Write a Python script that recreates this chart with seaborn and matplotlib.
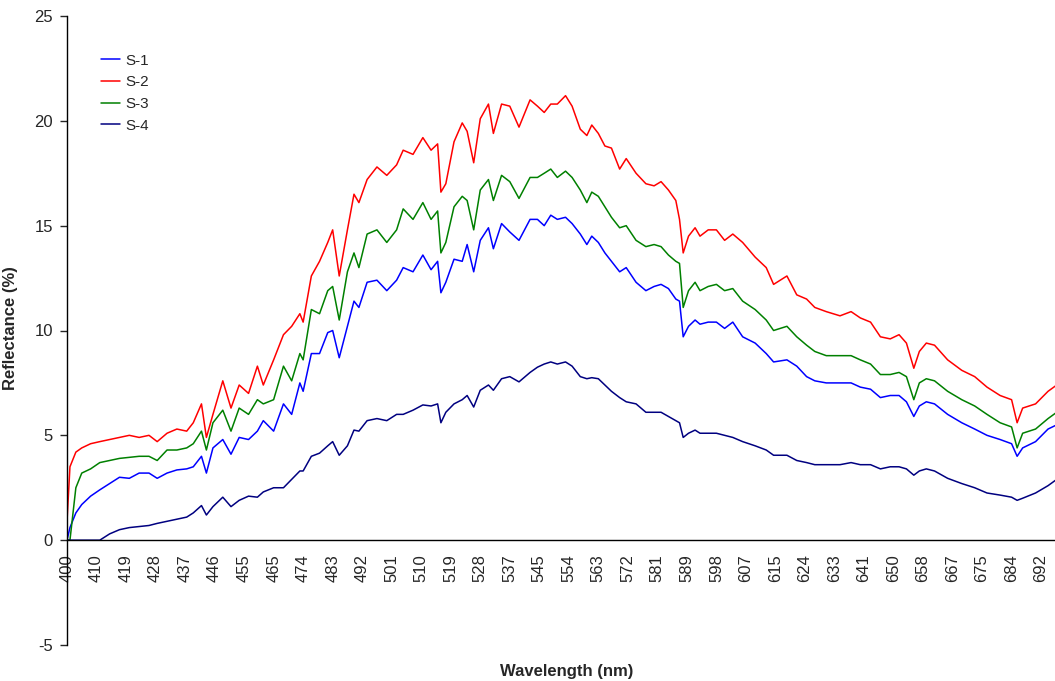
import numpy as np
import pandas as pd
import matplotlib
matplotlib.use("Agg")
import matplotlib.pyplot as plt
import seaborn as sns

# wavelengths (nm) where the curves were read
wavelength = [
    400, 401, 403, 405, 408, 411, 414, 417, 420, 423,
    426, 428.5, 431.5, 434.5, 437.5, 439.5, 442, 443.5, 445.5, 448.5,
    451, 453.5, 456.5, 459.5, 461.5, 465, 468, 470.5, 473, 474,
    476.5, 479, 481.5, 483, 485, 487.5, 489.5, 491, 493.5, 496.5,
    499.5, 502.5, 504.5, 507.5, 510.5, 513, 515, 516, 517.5, 520,
    522.5, 524, 526, 528, 530.5, 532, 534.5, 537, 539.5, 542.5,
    544.5, 546.5, 548.5, 550.5, 553, 555, 557.5, 559.5, 561, 563,
    565, 567, 569.5, 571.5, 574.5, 577.5, 580, 582, 584, 586,
    587, 588, 589.5, 591.5, 593, 595.5, 598, 600.5, 603, 606,
    609.5, 612.5, 614.5, 618.5, 621.5, 624.5, 627, 630.5, 634.5, 637.5,
    640, 643, 646, 649, 651.5, 653.5, 655.5, 657, 659, 661.5,
    665.5, 669.5, 673, 676.5, 680.5, 684, 685.5, 687, 690.5, 694,
    696.5,
]

s1 = [
    0, 0.6, 1.3, 1.7, 2.1, 2.4, 2.7, 3.0, 2.95, 3.2,
    3.2, 2.95, 3.2, 3.35, 3.4, 3.5, 4.0, 3.2, 4.4, 4.8,
    4.1, 4.9, 4.8, 5.2, 5.7, 5.2, 6.5, 6.0, 7.5, 7.1,
    8.9, 8.9, 9.9, 10.0, 8.7, 10.2, 11.4, 11.1, 12.3, 12.4,
    11.9, 12.4, 13.0, 12.8, 13.6, 12.9, 13.3, 11.8, 12.3, 13.4,
    13.3, 14.1, 12.8, 14.3, 14.9, 13.9, 15.1, 14.7, 14.3, 15.3,
    15.3, 15.0, 15.5, 15.3, 15.4, 15.1, 14.6, 14.1, 14.5, 14.2,
    13.7, 13.3, 12.8, 13.0, 12.3, 11.9, 12.1, 12.2, 12.0, 11.5,
    11.4, 9.7, 10.2, 10.5, 10.3, 10.4, 10.4, 10.1, 10.4, 9.7,
    9.4, 8.9, 8.5, 8.6, 8.3, 7.8, 7.6, 7.5, 7.5, 7.5,
    7.3, 7.2, 6.8, 6.9, 6.9, 6.6, 5.9, 6.4, 6.6, 6.5,
    6.0, 5.6, 5.3, 5.0, 4.8, 4.6, 4.0, 4.4, 4.7, 5.3,
    5.5,
]

s2 = [
    0.9, 3.5, 4.2, 4.4, 4.6, 4.7, 4.8, 4.9, 5.0, 4.9,
    5.0, 4.7, 5.1, 5.3, 5.2, 5.6, 6.5, 4.9, 6.0, 7.6,
    6.3, 7.4, 7.0, 8.3, 7.4, 8.6, 9.8, 10.2, 10.8, 10.4,
    12.6, 13.3, 14.2, 14.8, 12.6, 14.8, 16.5, 16.1, 17.2, 17.8,
    17.4, 17.9, 18.6, 18.4, 19.2, 18.6, 18.9, 16.6, 17.0, 19.0,
    19.9, 19.5, 18.0, 20.1, 20.8, 19.4, 20.8, 20.7, 19.7, 21.0,
    20.7, 20.4, 20.8, 20.8, 21.2, 20.7, 19.6, 19.3, 19.8, 19.4,
    18.8, 18.7, 17.7, 18.2, 17.5, 17.0, 16.9, 17.1, 16.7, 16.2,
    15.3, 13.7, 14.5, 14.9, 14.5, 14.8, 14.8, 14.3, 14.6, 14.2,
    13.5, 13.0, 12.2, 12.6, 11.7, 11.5, 11.1, 10.9, 10.7, 10.9,
    10.6, 10.4, 9.7, 9.6, 9.8, 9.4, 8.2, 9.0, 9.4, 9.3,
    8.6, 8.1, 7.8, 7.3, 6.9, 6.7, 5.6, 6.3, 6.5, 7.1,
    7.4,
]

s3 = [
    0, 0, 2.5, 3.2, 3.4, 3.7, 3.8, 3.9, 3.95, 4.0,
    4.0, 3.8, 4.3, 4.3, 4.4, 4.6, 5.2, 4.3, 5.6, 6.2,
    5.2, 6.3, 6.0, 6.7, 6.5, 6.7, 8.3, 7.6, 8.9, 8.6,
    11.0, 10.8, 11.9, 12.1, 10.5, 12.8, 13.7, 13.0, 14.6, 14.8,
    14.2, 14.8, 15.8, 15.3, 16.1, 15.3, 15.7, 13.7, 14.2, 15.9,
    16.4, 16.2, 14.8, 16.7, 17.2, 16.2, 17.4, 17.1, 16.3, 17.3,
    17.3, 17.5, 17.7, 17.3, 17.6, 17.3, 16.7, 16.1, 16.6, 16.4,
    15.9, 15.4, 14.9, 15.0, 14.3, 14.0, 14.1, 14.0, 13.6, 13.3,
    13.2, 11.1, 11.9, 12.3, 11.9, 12.1, 12.2, 11.9, 12.0, 11.4,
    11.0, 10.5, 10.0, 10.2, 9.7, 9.3, 9.0, 8.8, 8.8, 8.8,
    8.6, 8.4, 7.9, 7.9, 8.0, 7.8, 6.7, 7.5, 7.7, 7.6,
    7.1, 6.7, 6.4, 6.0, 5.6, 5.4, 4.4, 5.1, 5.3, 5.8,
    6.1,
]

s4 = [
    0, 0, 0, 0, 0, 0, 0.3, 0.5, 0.6, 0.65,
    0.7, 0.8, 0.9, 1.0, 1.1, 1.3, 1.65, 1.2, 1.6, 2.05,
    1.6, 1.9, 2.1, 2.05, 2.3, 2.5, 2.5, 2.9, 3.3, 3.3,
    4.0, 4.15, 4.5, 4.7, 4.05, 4.5, 5.25, 5.2, 5.7, 5.8,
    5.7, 6.0, 6.0, 6.2, 6.45, 6.4, 6.5, 5.6, 6.1, 6.5,
    6.7, 6.9, 6.35, 7.15, 7.4, 7.15, 7.7, 7.8, 7.55, 8.0,
    8.25, 8.4, 8.5, 8.4, 8.5, 8.3, 7.8, 7.7, 7.75, 7.7,
    7.4, 7.1, 6.8, 6.6, 6.5, 6.1, 6.1, 6.1, 5.9, 5.7,
    5.6, 4.9, 5.1, 5.25, 5.1, 5.1, 5.1, 5.0, 4.9, 4.7,
    4.5, 4.3, 4.05, 4.05, 3.8, 3.7, 3.6, 3.6, 3.6, 3.7,
    3.6, 3.6, 3.4, 3.5, 3.5, 3.4, 3.1, 3.3, 3.4, 3.3,
    2.95, 2.7, 2.5, 2.25, 2.15, 2.05, 1.9, 2.0, 2.25, 2.6,
    2.9,
]

series_names = ["S-1", "S-2", "S-3", "S-4"]
series_colors = ["#0000FF", "#FF0000", "#008000", "#000080"]

# category labels shown along the x axis (evenly spaced)
tick_nm = [400, 410, 419, 428, 437, 446, 455, 465, 474, 483, 492, 501,
           510, 519, 528, 537, 545, 554, 563, 572, 581, 589, 598, 607,
           615, 624, 633, 641, 650, 658, 667, 675, 684, 692]

df = pd.concat([
    pd.DataFrame({"Wavelength": wavelength, "Reflectance": vals, "Sample": name})
    for name, vals in zip(series_names, [s1, s2, s3, s4])
])

sns.set_style("ticks")
plt.rcParams["font.family"] = ["Liberation Sans", "DejaVu Sans"]
plt.rcParams["axes.unicode_minus"] = False

fig = plt.figure(figsize=(10.55, 6.81), dpi=100)
ax = fig.add_axes([67 / 1055, 36 / 681, 988 / 1055, 629 / 681])

sns.lineplot(data=df, x="Wavelength", y="Reflectance", hue="Sample",
             palette=dict(zip(series_names, series_colors)),
             linewidth=1.1, ax=ax, sort=True, estimator=None)

# the instrument bands are evenly spaced on the axis, not the wavelengths
knot_nm = np.array([390] + tick_nm + [700.5], dtype=float)
knot_pos = np.arange(-1, len(tick_nm) + 1, dtype=float)


def fwd(x):
    return np.interp(x, knot_nm, knot_pos)


def inv(p):
    return np.interp(p, knot_pos, knot_nm)


ax.set_xscale("function", functions=(fwd, inv))
ax.set_xlim(400, 696)
ax.set_ylim(-5, 25)
ax.set_xticks(tick_nm)
ax.set_xticklabels([str(t) for t in tick_nm])
ax.set_yticks(range(-5, 30, 5))
ax.tick_params(axis="x", length=0, pad=10, labelsize=12, labelrotation=90)
ax.tick_params(axis="y", length=5, width=1, pad=5, labelsize=12, direction="out")

ax.spines["bottom"].set_position(("data", 0))
ax.spines["top"].set_visible(False)
ax.spines["right"].set_visible(False)
for s in ["left", "bottom"]:
    ax.spines[s].set_color("black")
    ax.spines[s].set_linewidth(1)

ax.set_xlabel("Wavelength (nm)", fontsize=12, fontweight="bold")
ax.set_ylabel("Reflectance (%)", fontsize=12, fontweight="bold")
ax.xaxis.set_label_coords(0.506, -0.031)
ax.yaxis.set_label_coords(-0.05, 0.504)

handles, labels = ax.get_legend_handles_labels()
ax.legend(handles, labels, loc="upper left", bbox_to_anchor=(0.034, 0.94),
          frameon=False, fontsize=11, handlelength=1.25, handletextpad=0.35,
          labelspacing=0.5, borderpad=0, borderaxespad=0)

plt.savefig("out.png", dpi=100)
plt.close()
